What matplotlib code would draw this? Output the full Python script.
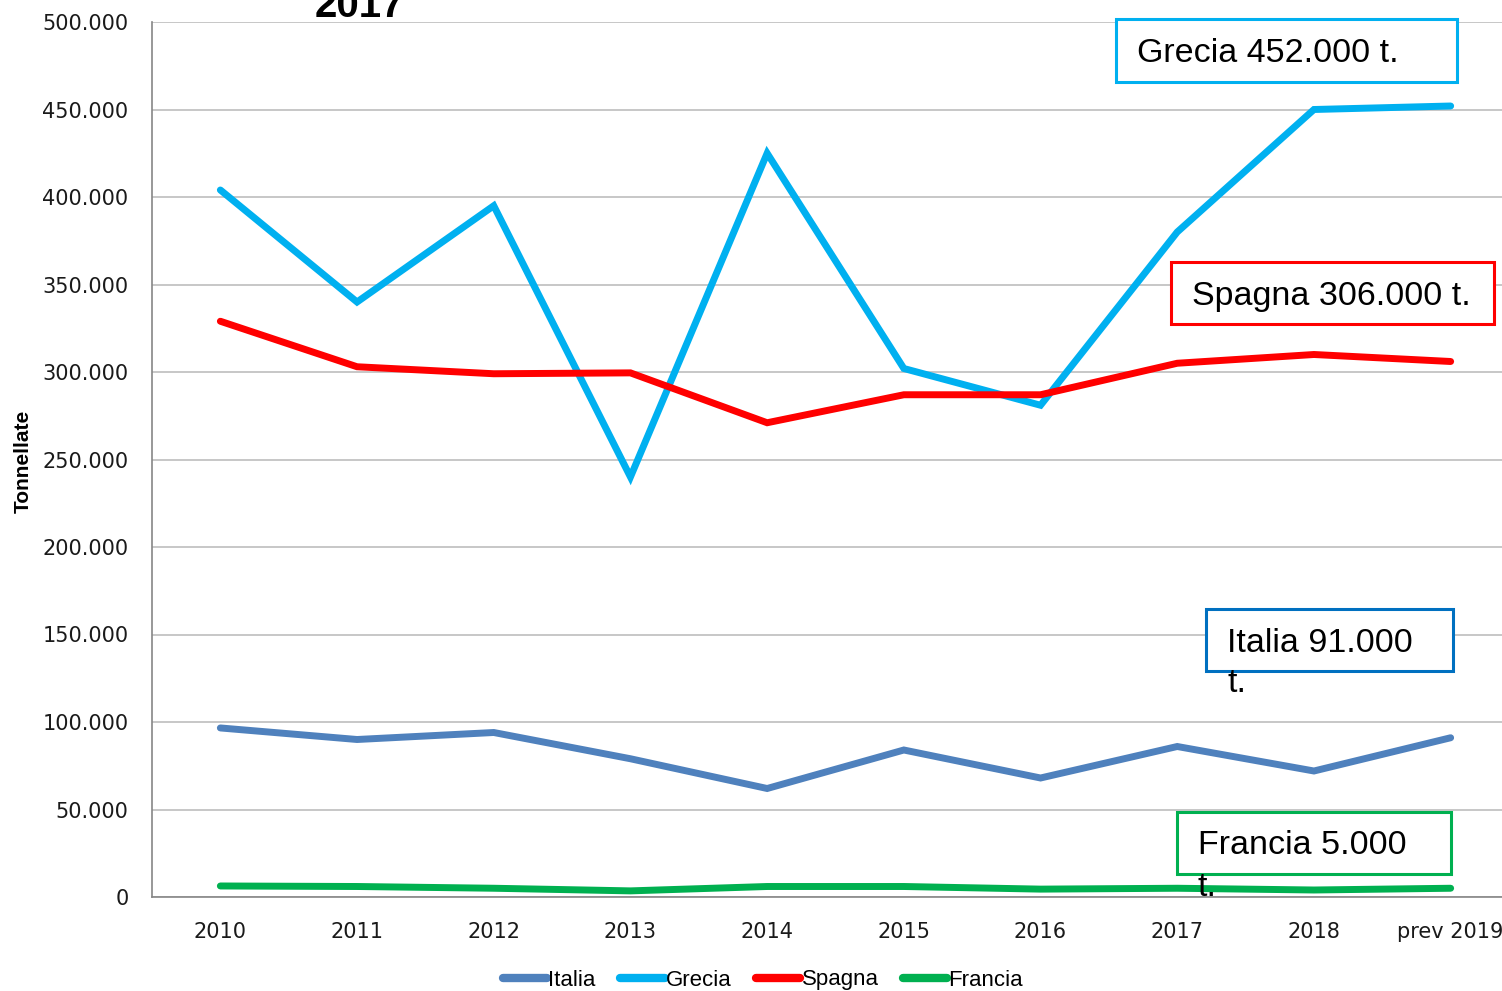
import matplotlib
matplotlib.use("Agg")
import matplotlib.pyplot as plt
from matplotlib.patches import Rectangle

# data (tonnellate)
anni = ["2010", "2011", "2012", "2013", "2014", "2015", "2016", "2017", "2018", "prev 2019"]
italia  = [96600, 90000, 94000, 79000, 62000, 84000, 68000, 86000, 72000, 91000]
grecia  = [404000, 340000, 395000, 240000, 425000, 302000, 281000, 380000, 450000, 452000]
spagna  = [329000, 303000, 299000, 299500, 271000, 287000, 287000, 305000, 310000, 306000]
francia = [6300, 6000, 5000, 3500, 6000, 6000, 4500, 5000, 4000, 5000]

serie = [("Italia", italia, "#4F81BD"),
         ("Grecia", grecia, "#00B0F0"),
         ("Spagna", spagna, "#FF0000"),
         ("Francia", francia, "#00B050")]

W, H = 1502, 991
fig = plt.figure(figsize=(W / 100, H / 100), dpi=100)

def fx(px):
    return px / W

def fy(py):
    return 1 - py / H

ax = fig.add_axes([fx(152), fy(897), fx(1519) - fx(152), fy(22) - fy(897)])

x = list(range(len(anni)))
for nome, vals, col in serie:
    ax.plot(x, vals, color=col, lw=5, label=nome, solid_capstyle="round", solid_joinstyle="miter")

ax.set_xlim(-0.5, len(anni) - 0.5)
ax.set_ylim(0, 500000)
yt = list(range(0, 500001, 50000))
ax.set_yticks(yt)
ax.set_yticklabels(["0" if v == 0 else f"{v // 1000}.000" for v in yt])
ax.set_xticks(x)
ax.set_xticklabels(anni)
ax.tick_params(axis="y", length=0, pad=17, labelsize=15, labelcolor="#1a1a1a")
ax.tick_params(axis="x", length=0, pad=18, labelsize=15, labelcolor="#1a1a1a")
ax.grid(axis="y", color="#BEBEBE", lw=1.2)
ax.set_axisbelow(True)
for s in ["top", "right"]:
    ax.spines[s].set_visible(False)
for s in ["left", "bottom"]:
    ax.spines[s].set_color("#868686")
    ax.spines[s].set_linewidth(1.2)

fig.text(fx(23), fy(461), "Tonnellate", rotation=90, ha="center", va="center",
         fontsize=15, fontweight="bold", family="Liberation Sans")

fig.text(fx(315), fy(17), "2017", fontsize=29, fontweight="bold",
         family="Liberation Sans", va="baseline", ha="left")

# text boxes
boxes = [
    (1116, 19, 1457, 82, "#00B0F0", "Grecia 452.000 t.", None),
    (1171, 262, 1494, 324, "#FF0000", "Spagna 306.000 t.", None),
    (1206, 609, 1453, 671, "#0070C0", "Italia 91.000", "t."),
    (1177, 812, 1451, 874, "#00B050", "Francia 5.000", "t."),
]
for x0, y0, x1, y1, col, txt, extra in boxes:
    fig.patches.append(Rectangle((fx(x0), fy(y1)), fx(x1) - fx(x0), fy(y0) - fy(y1),
                                 transform=fig.transFigure, fill=True, facecolor="white",
                                 edgecolor=col, lw=2.2, zorder=5))
    fig.text(fx(x0 + 21), fy((y0 + y1) / 2 + 3), txt, fontsize=24.5, family="Liberation Sans",
             va="center", ha="left", zorder=6)
    if extra:
        fig.text(fx(x0 + 21), fy(y1 + 13), extra, fontsize=24.5, family="Liberation Sans",
                 va="center", ha="left", zorder=6)

leg = fig.legend(loc="center", bbox_to_anchor=(fx(763), fy(980)), ncol=4, frameon=False,
                 prop={"family": "Liberation Sans", "size": 16}, handlelength=2.0,
                 handletextpad=0.05, columnspacing=1.1)
for h in leg.get_lines():
    h.set_linewidth(6)

fig.savefig("out.png", dpi=100)
